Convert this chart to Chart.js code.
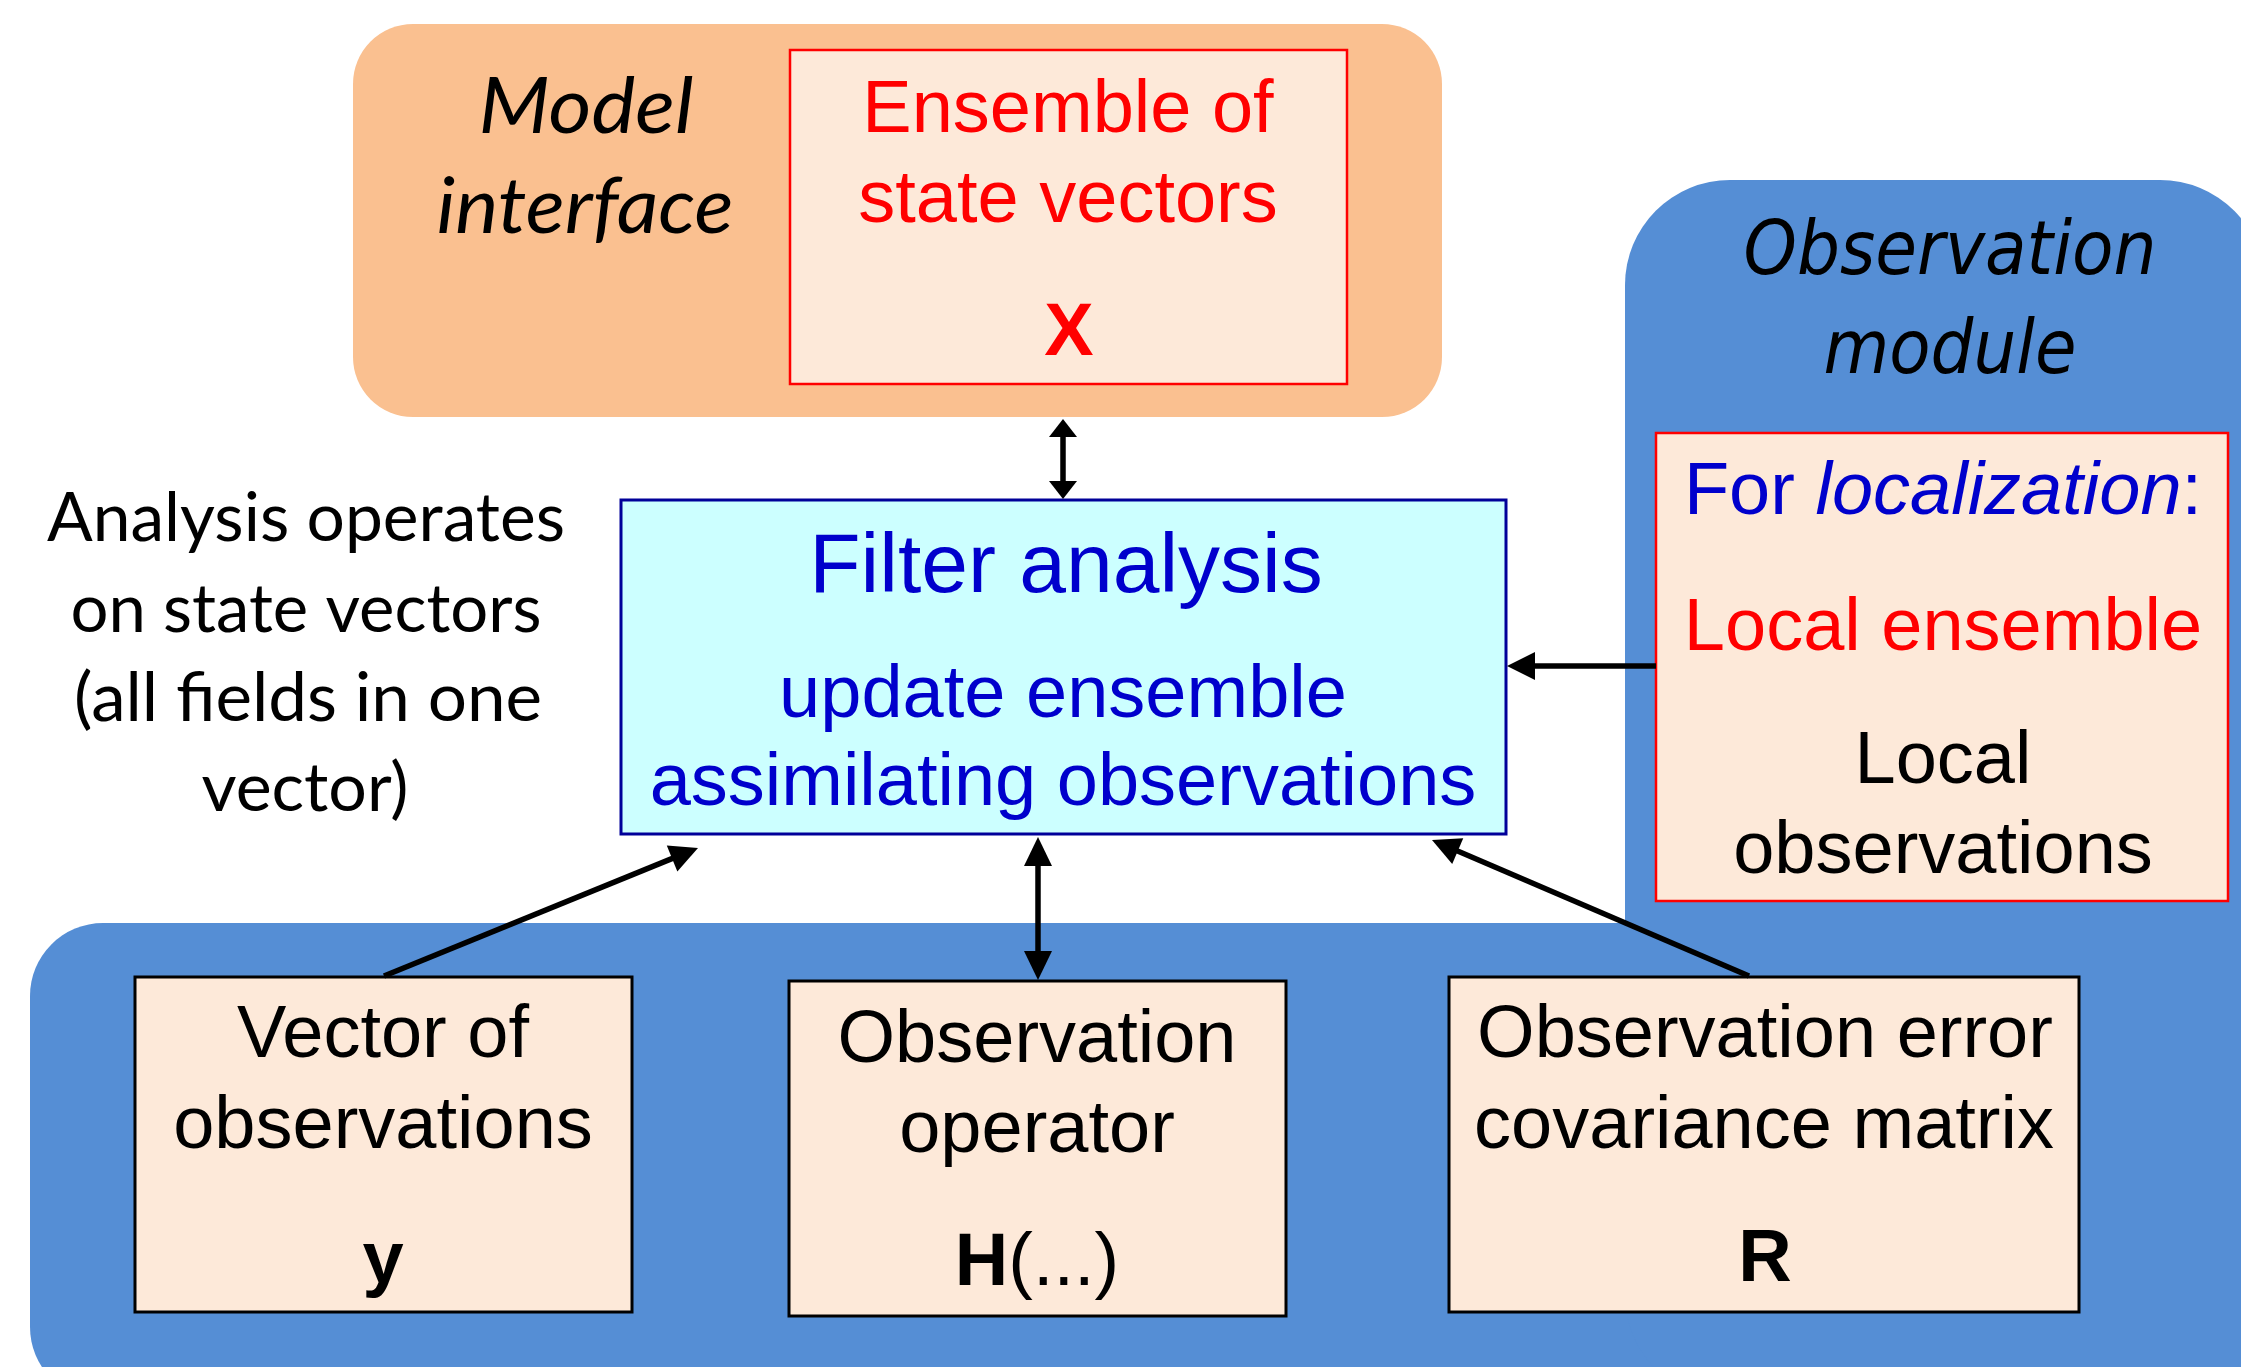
<!DOCTYPE html>
<html>
<head>
<meta charset="utf-8">
<script src="https://cdn.jsdelivr.net/npm/chart.js@4.4.1/dist/chart.umd.min.js"></script>
<style>
html,body{margin:0;padding:0;background:#ffffff;overflow:hidden;}
#wrap{width:2241px;height:1367px;position:relative;}
</style>
</head>
<body>
<div id="wrap"><canvas id="c" width="2241" height="1367"></canvas></div>
<script>
// ---------------- DATA (diagram units: x 0..2241, y 0..1367 top-down) ----------------
// Background panels
const panelNames  = ['Model interface', 'Observation base', 'Observation module'];
const panelLeft   = [353, 30, 1625];
const panelTop    = [24, 923, 180];
const panelRight  = [1442, 2300, 2265];
const panelBottom = [417, 1400, 1400];

// Boxes
const boxNames  = ['Ensemble of state vectors', 'Filter analysis', 'Localization', 'Vector of observations', 'Observation operator', 'Observation error covariance'];
const boxLeft   = [790, 621, 1656, 135, 789, 1449];
const boxTop    = [50, 500, 433, 977, 981, 977];
const boxRight  = [1347, 1506, 2228, 632, 1286, 2079];
const boxBottom = [384, 834, 901, 1312, 1316, 1312];

// Arrows (from -> to; head at "to", and also at "from" if double)
const arrowFromX = [1063, 1656, 384, 1038, 1749];
const arrowFromY = [419, 666, 976, 980, 976];
const arrowToX   = [1063, 1507, 698, 1038, 1432];
const arrowToY   = [499, 666, 848, 837, 840];
const arrowDouble = [true, false, false, true, false];

// Text lines
const textLines = ['Model', 'interface', 'Ensemble of', 'state vectors', 'X',
  'Observation', 'module', 'For |localization|:', 'Local ensemble', 'Local', 'observations',
  'Analysis operates', 'on state vectors', '(all fields in one', 'vector)',
  'Filter analysis', 'update ensemble', 'assimilating observations',
  'Vector of', 'observations', 'y',
  'Observation', 'operator', 'H|(...)',
  'Observation error', 'covariance matrix', 'R'];
const textX = [586, 585, 1068, 1068, 1069,
  1950, 1950, 1943, 1943, 1943, 1943,
  306, 306, 308, 305,
  1066, 1063, 1063,
  383, 383, 383,
  1037, 1037, 1037,
  1765, 1764, 1765];
const textY = [133, 233, 132, 222, 355,
  274, 373, 514, 650, 783, 873,
  541, 632, 721, 811,
  592, 717, 805,
  1057, 1148, 1283,
  1062, 1152, 1285,
  1057, 1148, 1281];
const textWidth = [215, 297, null, null, null,
  413, 253, null, null, null, null,
  518, 471, 468, 207,
  null, null, null,
  null, null, null,
  null, null, null,
  null, null, null];
// style keys
const textStyle = ['calI', 'calI', 'red', 'red', 'redB',
  'verI', 'verI', 'loc', 'red', 'blk', 'blk',
  'cal', 'cal', 'cal', 'cal',
  'blueH', 'blue', 'blue',
  'blk', 'blk', 'blkB',
  'blk', 'blk', 'hfun',
  'blk', 'blk', 'blkB'];

// ---------------- STYLES ----------------
const ARIAL = '"Liberation Sans", Arial, sans-serif';
const CAL = 'Lato, Carlito, Calibri, "Open Sans", sans-serif';
const VER = '"DejaVu Sans Condensed", "DejaVu Sans", Verdana, sans-serif';
const styles = {
  calI: [{font: 'italic 78px ' + CAL, color: '#000000'}],
  cal: [{font: '68px ' + CAL, color: '#000000'}],
  red: [{font: '74px ' + ARIAL, color: '#FF0000'}],
  redB: [{font: 'bold 74px ' + ARIAL, color: '#FF0000'}],
  verI: [{font: 'italic 75px ' + VER, color: '#000000'}],
  loc: [{font: '74px ' + ARIAL, color: '#0000CC'}, {font: 'italic 74px ' + ARIAL, color: '#0000CC'}, {font: '74px ' + ARIAL, color: '#0000CC'}],
  blk: [{font: '74px ' + ARIAL, color: '#000000'}],
  blkB: [{font: 'bold 74px ' + ARIAL, color: '#000000'}],
  blueH: [{font: '84px ' + ARIAL, color: '#0000CC'}],
  blue: [{font: '74px ' + ARIAL, color: '#0000CC'}],
  hfun: [{font: 'bold 74px ' + ARIAL, color: '#000000'}, {font: '74px ' + ARIAL, color: '#000000'}]
};
const panelFill = ['#FAC090', '#558ED5', '#558ED5'];
const panelRadius = [60, 73, 105];
const boxFill = ['#FDE9D9', '#CCFFFF', '#FDE9D9', '#FDE9D9', '#FDE9D9', '#FDE9D9'];
const boxStroke = ['#FF0000', '#000099', '#FF0000', '#000000', '#000000', '#000000'];
const boxLineW = [2.5, 3, 2.5, 3, 3, 3];
const headLen = [18, 28, 28, 29, 28];
const headHalfW = [14, 14, 14, 14, 14];
const shaftW = 5.5;

// ---------------- BUILD ----------------
function shorten(x0, y0, x1, y1, d) {
  const L = Math.hypot(x1 - x0, y1 - y0);
  return {x: x1 - (x1 - x0) / L * d, y: y1 - (y1 - y0) / L * d};
}
const datasets = arrowFromX.map((fx, i) => {
  const fy = arrowFromY[i], tx = arrowToX[i], ty = arrowToY[i];
  const end = shorten(fx, fy, tx, ty, headLen[i] * 0.7);
  const start = arrowDouble[i] ? shorten(tx, ty, fx, fy, headLen[i] * 0.7) : {x: fx, y: fy};
  return {
    label: 'arrow' + i,
    data: [start, end],
    showLine: true,
    borderColor: '#000000',
    backgroundColor: '#000000',
    borderWidth: shaftW,
    borderCapStyle: 'butt',
    pointRadius: 0,
    pointHoverRadius: 0,
    tension: 0
  };
});

function roundRect(ctx, x0, y0, x1, y1, r) {
  ctx.beginPath();
  ctx.moveTo(x0 + r, y0);
  ctx.lineTo(x1 - r, y0);
  ctx.arcTo(x1, y0, x1, y0 + r, r);
  ctx.lineTo(x1, y1 - r);
  ctx.arcTo(x1, y1, x1 - r, y1, r);
  ctx.lineTo(x0 + r, y1);
  ctx.arcTo(x0, y1, x0, y1 - r, r);
  ctx.lineTo(x0, y0 + r);
  ctx.arcTo(x0, y0, x0 + r, y0, r);
  ctx.closePath();
}

const diagram = {
  id: 'diagram',
  beforeDatasetsDraw(chart) {
    const ctx = chart.ctx, sx = chart.scales.x, sy = chart.scales.y;
    ctx.save();
    panelNames.forEach((n, i) => {
      const x0 = sx.getPixelForValue(panelLeft[i]), x1 = sx.getPixelForValue(panelRight[i]);
      const y0 = sy.getPixelForValue(panelTop[i]), y1 = sy.getPixelForValue(panelBottom[i]);
      roundRect(ctx, x0, y0, x1, y1, panelRadius[i]);
      ctx.fillStyle = panelFill[i];
      ctx.fill();
    });
    boxNames.forEach((n, i) => {
      const x0 = sx.getPixelForValue(boxLeft[i]), x1 = sx.getPixelForValue(boxRight[i]);
      const y0 = sy.getPixelForValue(boxTop[i]), y1 = sy.getPixelForValue(boxBottom[i]);
      ctx.fillStyle = boxFill[i];
      ctx.fillRect(x0, y0, x1 - x0, y1 - y0);
      ctx.strokeStyle = boxStroke[i];
      ctx.lineWidth = boxLineW[i];
      ctx.strokeRect(x0, y0, x1 - x0, y1 - y0);
    });
    ctx.restore();
  },
  afterDatasetsDraw(chart) {
    const ctx = chart.ctx, sx = chart.scales.x, sy = chart.scales.y;
    ctx.save();
    // arrow heads
    const head = (fx, fy, tx, ty, len, hw) => {
      const L = Math.hypot(tx - fx, ty - fy);
      const ux = (tx - fx) / L, uy = (ty - fy) / L;
      const bx = tx - ux * len, by = ty - uy * len;
      ctx.beginPath();
      ctx.moveTo(tx, ty);
      ctx.lineTo(bx - uy * hw, by + ux * hw);
      ctx.lineTo(bx + uy * hw, by - ux * hw);
      ctx.closePath();
      ctx.fillStyle = '#000000';
      ctx.fill();
    };
    arrowFromX.forEach((v, i) => {
      const fx = sx.getPixelForValue(arrowFromX[i]), fy = sy.getPixelForValue(arrowFromY[i]);
      const tx = sx.getPixelForValue(arrowToX[i]), ty = sy.getPixelForValue(arrowToY[i]);
      head(fx, fy, tx, ty, headLen[i], headHalfW[i]);
      if (arrowDouble[i]) head(tx, ty, fx, fy, headLen[i], headHalfW[i]);
    });
    // texts
    ctx.textBaseline = 'alphabetic';
    ctx.textAlign = 'left';
    textLines.forEach((str, i) => {
      const parts = str.split('|');
      const st = styles[textStyle[i]];
      let total = 0;
      const widths = parts.map((p, k) => {
        ctx.font = st[Math.min(k, st.length - 1)].font;
        const w = ctx.measureText(p).width;
        total += w;
        return w;
      });
      const scaleX = textWidth[i] ? textWidth[i] / total : 1;
      const cx = sx.getPixelForValue(textX[i]), by = sy.getPixelForValue(textY[i]);
      ctx.save();
      ctx.translate(cx, by);
      ctx.scale(scaleX, 1);
      let x = -total / 2;
      parts.forEach((p, k) => {
        const s = st[Math.min(k, st.length - 1)];
        ctx.font = s.font;
        ctx.fillStyle = s.color;
        ctx.fillText(p, x, 0);
        x += widths[k];
      });
      ctx.restore();
    });
    ctx.restore();
  }
};

const canvas = document.getElementById('c');
new Chart(canvas, {
  type: 'scatter',
  data: {datasets},
  options: {
    responsive: false,
    devicePixelRatio: 1,
    animation: false,
    events: [],
    layout: {padding: 0},
    plugins: {legend: {display: false}, tooltip: {enabled: false}, title: {display: false}},
    scales: {
      x: {type: 'linear', min: 0, max: 2241, display: false},
      y: {type: 'linear', min: 0, max: 1367, reverse: true, display: false}
    }
  },
  plugins: [diagram]
});
</script>
</body>
</html>
